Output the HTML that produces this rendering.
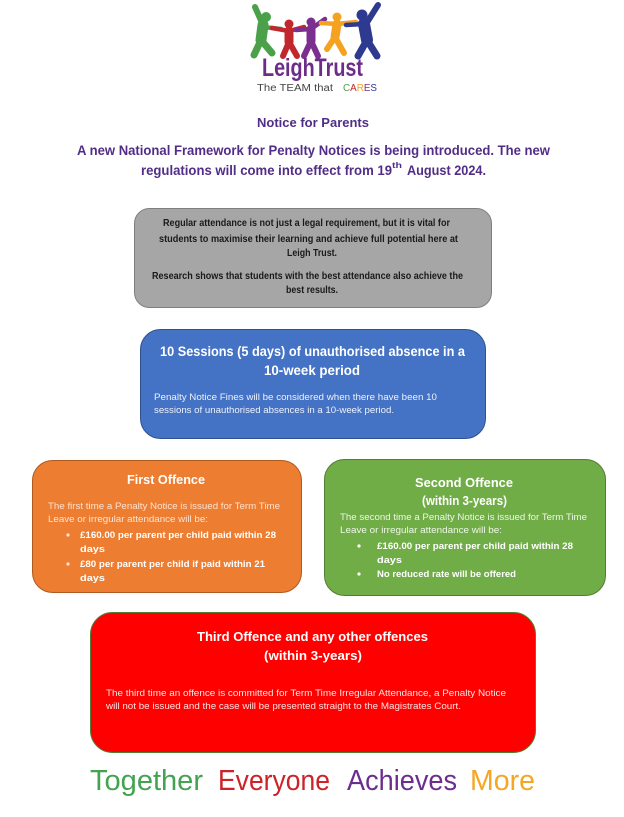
<!DOCTYPE html>
<html>
<head>
<meta charset="utf-8">
<style>
html,body{margin:0;padding:0;background:#fff;}
svg{display:block;}
text{font-family:"Liberation Sans",sans-serif;}
</style>
</head>
<body>
<svg width="624" height="817" viewBox="0 0 624 817" xmlns="http://www.w3.org/2000/svg">
<rect width="624" height="817" fill="#ffffff"/>

<!-- Logo -->
<g stroke-linecap="round" stroke-linejoin="round" fill="none">
  <!-- green -->
  <g stroke="#4aa14a">
    <line x1="263" y1="25" x2="255" y2="7" stroke-width="6"/>
    <line x1="263" y1="27" x2="281" y2="29" stroke-width="4.5"/>
    <line x1="263" y1="25" x2="261" y2="40" stroke-width="11"/>
    <line x1="261" y1="40" x2="254" y2="55" stroke-width="7"/>
    <line x1="261" y1="40" x2="272" y2="53" stroke-width="7"/>
  </g>
  <circle cx="266" cy="17" r="5" fill="#4aa14a"/>
  <!-- red -->
  <g stroke="#c0282d">
    <line x1="289" y1="31" x2="272" y2="28" stroke-width="4.5"/>
    <line x1="289" y1="31" x2="304" y2="27" stroke-width="4.5"/>
    <line x1="289" y1="31" x2="289" y2="42" stroke-width="9"/>
    <line x1="289" y1="42" x2="283" y2="56" stroke-width="6"/>
    <line x1="289" y1="42" x2="297" y2="56" stroke-width="6"/>
  </g>
  <circle cx="289" cy="24" r="4.5" fill="#c0282d"/>
  <!-- purple -->
  <g stroke="#7b2f8e">
    <line x1="311" y1="29" x2="296" y2="30" stroke-width="4.5"/>
    <line x1="311" y1="29" x2="325" y2="19" stroke-width="4.5"/>
    <line x1="311" y1="29" x2="311" y2="41" stroke-width="9"/>
    <line x1="311" y1="41" x2="304" y2="56" stroke-width="6"/>
    <line x1="311" y1="41" x2="318" y2="56" stroke-width="6"/>
  </g>
  <circle cx="311" cy="22" r="4.5" fill="#7b2f8e"/>
  <!-- orange -->
  <g stroke="#f4a21f">
    <line x1="337" y1="24" x2="321" y2="23" stroke-width="4.5"/>
    <line x1="337" y1="24" x2="356" y2="22" stroke-width="4.5"/>
    <line x1="337" y1="24" x2="335" y2="37" stroke-width="9"/>
    <line x1="335" y1="37" x2="327" y2="49" stroke-width="6"/>
    <line x1="335" y1="37" x2="344" y2="53" stroke-width="6"/>
  </g>
  <circle cx="337" cy="17" r="4.5" fill="#f4a21f"/>
  <!-- blue -->
  <g stroke="#2e3a8f">
    <line x1="364" y1="24" x2="346" y2="25" stroke-width="4.5"/>
    <line x1="366" y1="24" x2="378" y2="5" stroke-width="6"/>
    <line x1="364" y1="24" x2="367" y2="40" stroke-width="12"/>
    <line x1="367" y1="40" x2="358" y2="56" stroke-width="7"/>
    <line x1="367" y1="40" x2="377" y2="56" stroke-width="7"/>
  </g>
  <circle cx="362" cy="15" r="5.5" fill="#2e3a8f"/>
</g>
<text x="262" y="76" font-size="25" font-weight="bold" fill="#6b2c8a" textLength="101" lengthAdjust="spacingAndGlyphs">LeighTrust</text>
<text x="257" y="91" font-size="10" fill="#444" textLength="76" lengthAdjust="spacingAndGlyphs">The TEAM that</text>
<text x="343" y="91" font-size="10" textLength="34" lengthAdjust="spacingAndGlyphs"><tspan fill="#4aa14a">C</tspan><tspan fill="#c0282d">A</tspan><tspan fill="#f4a21f">R</tspan><tspan fill="#7b2f8e">E</tspan><tspan fill="#2e3a8f">S</tspan></text>

<!-- Headings -->
<text x="257" y="127" font-size="13" font-weight="bold" fill="#512d87" textLength="112" lengthAdjust="spacingAndGlyphs">Notice for Parents</text>
<text x="77" y="155" font-size="14" font-weight="bold" fill="#512d87" textLength="473" lengthAdjust="spacingAndGlyphs">A new National Framework for Penalty Notices is being introduced. The new</text>
<text x="141" y="175" font-size="14" font-weight="bold" fill="#512d87" textLength="251" lengthAdjust="spacingAndGlyphs">regulations will come into effect from 19</text>
<text x="392" y="168" font-size="8" font-weight="bold" fill="#512d87" textLength="10" lengthAdjust="spacingAndGlyphs">th</text>
<text x="407" y="175" font-size="14" font-weight="bold" fill="#512d87" textLength="79" lengthAdjust="spacingAndGlyphs">August 2024.</text>

<!-- Grey box -->
<rect x="134.5" y="208.5" width="357" height="99" rx="15" ry="15" fill="#a6a6a6" stroke="#7f7f7f" stroke-width="1"/>
<g font-size="10.5" font-weight="bold" fill="#1a1a1a">
<text x="163" y="226" textLength="287" lengthAdjust="spacingAndGlyphs">Regular attendance is not just a legal requirement, but it is vital for</text>
<text x="159" y="242" textLength="299" lengthAdjust="spacingAndGlyphs">students to maximise their learning and achieve full potential here at</text>
<text x="287" y="256" textLength="50" lengthAdjust="spacingAndGlyphs">Leigh Trust.</text>
<text x="152" y="279" textLength="311" lengthAdjust="spacingAndGlyphs">Research shows that students with the best attendance also achieve the</text>
<text x="286" y="293" textLength="52" lengthAdjust="spacingAndGlyphs">best results.</text>
</g>

<!-- Blue box -->
<rect x="140.5" y="329.5" width="345" height="109" rx="20" ry="20" fill="#4472c4" stroke="#2f528f" stroke-width="1"/>
<text x="160" y="356" font-size="13.5" font-weight="bold" fill="#ffffff" textLength="305" lengthAdjust="spacingAndGlyphs">10 Sessions (5 days) of unauthorised absence in a</text>
<text x="264" y="375" font-size="13.5" font-weight="bold" fill="#ffffff" textLength="96" lengthAdjust="spacingAndGlyphs">10-week period</text>
<text x="154" y="400" font-size="9" fill="#eef2fa" textLength="283" lengthAdjust="spacingAndGlyphs">Penalty Notice Fines will be considered when there have been 10</text>
<text x="154" y="413" font-size="9" fill="#eef2fa" textLength="240" lengthAdjust="spacingAndGlyphs">sessions of unauthorised absences in a 10-week period.</text>

<!-- Orange box -->
<rect x="32.5" y="460.5" width="269" height="132" rx="20" ry="20" fill="#ed7d31" stroke="#ae5a21" stroke-width="1"/>
<text x="127" y="484" font-size="13" font-weight="bold" fill="#ffffff" textLength="78" lengthAdjust="spacingAndGlyphs">First Offence</text>
<text x="48" y="509" font-size="9" fill="#fde3d2" textLength="232" lengthAdjust="spacingAndGlyphs">The first time a Penalty Notice is issued for Term Time</text>
<text x="48" y="522" font-size="9" fill="#fde3d2" textLength="160" lengthAdjust="spacingAndGlyphs">Leave or irregular attendance will be:</text>
<circle cx="68" cy="535" r="1.6" fill="#fde3d2"/>
<text x="80" y="538" font-size="9" font-weight="bold" fill="#ffffff" textLength="196" lengthAdjust="spacingAndGlyphs">£160.00 per parent per child paid within 28</text>
<text x="80" y="552" font-size="9" font-weight="bold" fill="#ffffff" textLength="25" lengthAdjust="spacingAndGlyphs">days</text>
<circle cx="68" cy="564" r="1.6" fill="#fde3d2"/>
<text x="80" y="567" font-size="9" font-weight="bold" fill="#ffffff" textLength="185" lengthAdjust="spacingAndGlyphs">£80 per parent per child if paid within 21</text>
<text x="80" y="581" font-size="9" font-weight="bold" fill="#ffffff" textLength="25" lengthAdjust="spacingAndGlyphs">days</text>

<!-- Green box -->
<rect x="324.5" y="459.5" width="281" height="136" rx="20" ry="20" fill="#70ad47" stroke="#507e32" stroke-width="1"/>
<text x="415" y="487" font-size="13" font-weight="bold" fill="#ffffff" textLength="98" lengthAdjust="spacingAndGlyphs">Second Offence</text>
<text x="422" y="505" font-size="13" font-weight="bold" fill="#ffffff" textLength="85" lengthAdjust="spacingAndGlyphs">(within 3-years)</text>
<text x="340" y="520" font-size="9" fill="#eef6e8" textLength="247" lengthAdjust="spacingAndGlyphs">The second time a Penalty Notice is issued for Term Time</text>
<text x="340" y="533" font-size="9" fill="#eef6e8" textLength="162" lengthAdjust="spacingAndGlyphs">Leave or irregular attendance will be:</text>
<circle cx="359" cy="546" r="1.6" fill="#ffffff"/>
<text x="377" y="549" font-size="9" font-weight="bold" fill="#ffffff" textLength="196" lengthAdjust="spacingAndGlyphs">£160.00 per parent per child paid within 28</text>
<text x="377" y="563" font-size="9" font-weight="bold" fill="#ffffff" textLength="25" lengthAdjust="spacingAndGlyphs">days</text>
<circle cx="359" cy="574" r="1.6" fill="#ffffff"/>
<text x="377" y="577" font-size="9" font-weight="bold" fill="#ffffff" textLength="139" lengthAdjust="spacingAndGlyphs">No reduced rate will be offered</text>

<!-- Red box -->
<rect x="90.5" y="612.5" width="445" height="140" rx="22" ry="22" fill="#ff0000" stroke="#507e32" stroke-width="1"/>
<text x="197" y="641" font-size="13" font-weight="bold" fill="#ffffff" textLength="231" lengthAdjust="spacingAndGlyphs">Third Offence and any other offences</text>
<text x="264" y="660" font-size="13" font-weight="bold" fill="#ffffff" textLength="98" lengthAdjust="spacingAndGlyphs">(within 3-years)</text>
<text x="106" y="696" font-size="9" fill="#ffe3e3" textLength="400" lengthAdjust="spacingAndGlyphs">The third time an offence is committed for Term Time Irregular Attendance, a Penalty Notice</text>
<text x="106" y="709" font-size="9" fill="#ffe3e3" textLength="355" lengthAdjust="spacingAndGlyphs">will not be issued and the case will be presented straight to the Magistrates Court.</text>

<!-- Footer -->
<g font-size="29">
<text x="90" y="790" fill="#43a350" textLength="113" lengthAdjust="spacingAndGlyphs">Together</text>
<text x="218" y="790" fill="#cc2229" textLength="112" lengthAdjust="spacingAndGlyphs">Everyone</text>
<text x="347" y="790" fill="#6b2e8f" textLength="110" lengthAdjust="spacingAndGlyphs">Achieves</text>
<text x="470" y="790" fill="#f5a623" textLength="65" lengthAdjust="spacingAndGlyphs">More</text>
</g>
</svg>
</body>
</html>
